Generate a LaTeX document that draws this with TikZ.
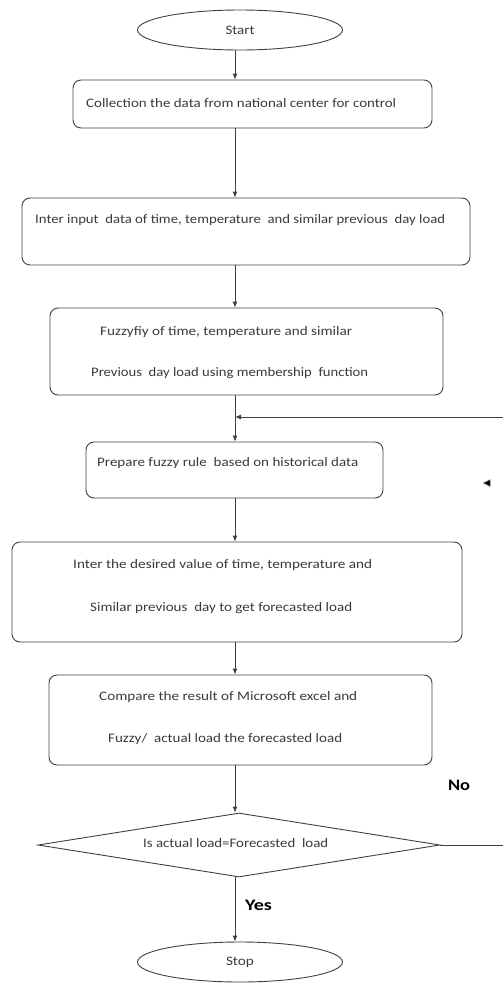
\documentclass[tikz,border=0pt]{standalone}
\usepackage{fontspec}
\setmainfont{Carlito}
\usetikzlibrary{arrows.meta,shapes.geometric}
\definecolor{ln}{HTML}{404040}
\definecolor{tx}{HTML}{3A3A3A}
\newcommand\fitw[2]{\resizebox{#1pt}{\height}{#2}}
\begin{document}
\begin{tikzpicture}[x=1pt,y=-1pt,
  box/.style={draw=ln, line width=0.9pt, rounded corners=8pt, rectangle, inner sep=0pt},
  term/.style={draw=ln, line width=0.9pt, ellipse, inner sep=0pt, minimum width=205pt, minimum height=40pt, text=tx, font=\fontsize{13}{15}\selectfont},
  dec/.style={draw=ln, line width=0.9pt, diamond, inner sep=0pt},
  lbl/.style={anchor=west, inner sep=0pt, text=tx, font=\fontsize{13}{15}\selectfont},
  yn/.style={inner sep=0pt, font=\fontsize{16}{18}\selectfont\bfseries},
  arr/.style={draw=ln, line width=0.9pt, -{Latex[length=6pt,width=5pt]}},
  ln/.style={draw=ln, line width=0.9pt}]
\useasboundingbox (0,0) rectangle (503,983);
\coordinate (ax) at (235,0);
% shapes
\node[term] (start) at (240,30) {\fitw{29}{Start}};
\node[box, minimum width=359pt, minimum height=48pt] (b1) at (252.5,104) {};
\node[box, minimum width=448pt, minimum height=67pt] (b2) at (246,231.5) {};
\node[box, minimum width=393pt, minimum height=87pt] (b3) at (246.5,351.5) {};
\node[box, minimum width=297pt, minimum height=56pt] (b4) at (234.5,470) {};
\node[box, minimum width=450pt, minimum height=100pt] (b5) at (237,592) {};
\node[box, minimum width=383pt, minimum height=90pt] (b6) at (240.5,720) {};
\node[dec, minimum width=402pt, minimum height=64pt] (d) at (239,845) {};
\node[term] (stop) at (240,962) {\fitw{28}{Stop}};
% texts
\node[lbl] (t1) at (86,103) {\fitw{310}{Collection the data from national center for control}};
\node[lbl] (t2) at (35,220) {\fitw{410}{Inter input\ \ data of time, temperature\ \ and similar previous\ \ day load}};
\node[lbl] (t3a) at (100,332) {\fitw{252}{Fuzzyfiy of time, temperature and similar}};
\node[lbl] (t3b) at (91,373) {\fitw{277}{Previous\ \ day load using membership\ \ function}};
\node[lbl] (t4) at (97,463) {\fitw{261}{Prepare fuzzy rule\ \ based on historical data}};
\node[lbl] (t5a) at (73,565) {\fitw{299}{Inter the desired value of time, temperature and}};
\node[lbl] (t5b) at (90,608) {\fitw{262}{Similar previous\ \ day to get forecasted load}};
\node[lbl] (t6a) at (99,697) {\fitw{258}{Compare the result of Microsoft excel and}};
\node[lbl] (t6b) at (108,739) {\fitw{234}{Fuzzy/\ \ actual load the forecasted load}};
\node[lbl] (td) at (143,843) {\fitw{185}{Is actual load=Forecasted\ \ load}};
\node[yn] (no) at (459,785) {\fitw{22}{No}};
\node[yn] (yes) at (258.5,905) {\fitw{27}{Yes}};
% connectors
\draw[arr] (start.south -| ax) -- (b1.north -| ax);
\draw[arr] (b1.south -| ax) -- (b2.north -| ax);
\draw[arr] (b2.south -| ax) -- (b3.north -| ax);
\draw[arr] (b3.south -| ax) -- (b4.north -| ax);
\draw[arr] (b4.south -| ax) -- (b5.north -| ax);
\draw[arr] (b5.south -| ax) -- (b6.north -| ax);
\draw[arr] (b6.south -| ax) -- (d.north -| ax);
\draw[arr] (d.south -| ax) -- (stop.north -| ax);
% feedback loop
\coordinate (fb1) at (507,845);
\coordinate (fb2) at (507,417);
\coordinate (j) at (235,417);
\draw[ln] (d.east) -- (fb1) -- (fb2);
\draw[arr] (fb2) -- (j);
% stray arrowhead
\fill[ln] (484,483) -- (490,480) -- (490,486) -- cycle;
\end{tikzpicture}
\end{document}
